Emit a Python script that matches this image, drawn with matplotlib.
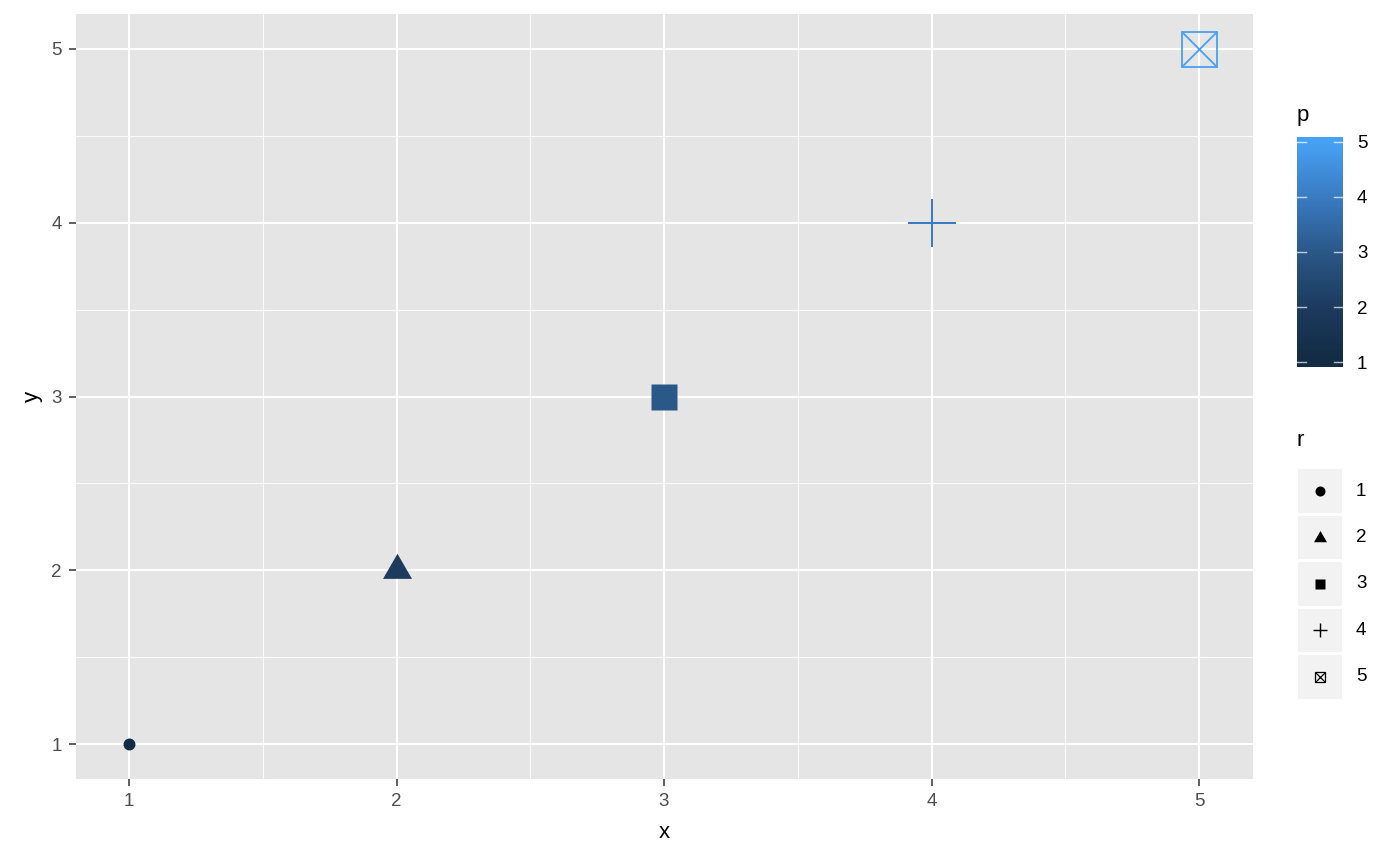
import numpy as np
import matplotlib
matplotlib.use('Agg')
import matplotlib.pyplot as plt
from matplotlib.path import Path
from matplotlib.colors import LinearSegmentedColormap, Normalize

plt.rcParams['font.family'] = ['Liberation Sans', 'DejaVu Sans']

# data
x = [1, 2, 3, 4, 5]
y = [1, 2, 3, 4, 5]
p = [1, 2, 3, 4, 5]
r = ['1', '2', '3', '4', '5']
ticks = [1, 2, 3, 4, 5]

# gradient stops as seen in the picture
cmap = LinearSegmentedColormap.from_list(
    'pgrad', ['#132B43', '#1C3B5E', '#2A5888', '#3A7BC2', '#47A1F5'])
norm = Normalize(min(p), max(p))


def grad(v):
    return cmap(norm(v))


tri = Path([(-0.5, -0.2887), (0.5, -0.2887), (0, 0.5774), (-0.5, -0.2887)],
           [Path.MOVETO, Path.LINETO, Path.LINETO, Path.CLOSEPOLY])

# marker styles per r level: (marker, big size, legend size, filled, edge width)
styles = {
    '1': ('o', 8.6, 7.2, True, 0),
    '2': (tri, 24.1, 10.8, True, 0),
    '3': ('s', 19.4, 7.2, True, 0),
    '4': ('+', 34.6, 10.0, False, 1.45),
    '5': ('boxx', 25.2, 6.6, False, 1.3),
}


def draw_marker(ax, xx, yy, level, col, big=True, **kw):
    mk, sb, sl, filled, lw = styles[level]
    ms = sb if big else sl
    if not big:
        lw = lw * 0.7
    if mk == 'boxx':
        ax.plot(xx, yy, marker='s', ms=ms, mfc='none', mec=col, mew=lw, ls='none', **kw)
        ax.plot(xx, yy, marker='x', ms=ms, mec=col, mew=lw, ls='none', **kw)
    elif filled:
        ax.plot(xx, yy, marker=mk, ms=ms, mfc=col, mec='none', ls='none', **kw)
    else:
        ax.plot(xx, yy, marker=mk, ms=ms, mec=col, mew=lw, ls='none', **kw)


W, H = 1400, 866
fig = plt.figure(figsize=(14, 8.66), dpi=100)


def box(l, t, r_, b):
    return [l / W, 1 - b / H, (r_ - l) / W, (b - t) / H]


ax = fig.add_axes(box(75.5, 14, 1252.5, 779))
ax.set_facecolor('#E5E5E5')
ax.set_xlim(0.8, 5.2)
ax.set_ylim(0.8, 5.2)
ax.set_xticks(ticks)
ax.set_yticks(ticks)
ax.set_xticks([v + 0.5 for v in ticks[:-1]], minor=True)
ax.set_yticks([v + 0.5 for v in ticks[:-1]], minor=True)
ax.grid(which='major', color='white', lw=1.5)
ax.grid(which='minor', color='#FAFAFA', lw=0.8)
ax.set_axisbelow(True)
for s in ax.spines.values():
    s.set_visible(False)
ax.tick_params(which='major', length=5, width=1.1, color='#333333', labelcolor='#4D4D4D',
               labelsize=13.5, pad=5)
ax.tick_params(which='minor', length=0)
ax.set_xlabel('x', fontsize=16, labelpad=9)
ax.set_ylabel('y', fontsize=16, labelpad=6)

for xi, yi, pi, ri in zip(x, y, p, r):
    draw_marker(ax, xi, yi, ri, grad(pi), big=True, zorder=3)

# colorbar
cax = fig.add_axes(box(1297, 137, 1343, 367))
lo, hi = min(p) - 0.09, max(p) + 0.09
vals = np.clip(np.linspace(lo, hi, 300), min(p), max(p))
img = np.array([grad(v) for v in vals])[:, None, :]
cax.imshow(img, aspect='auto', extent=[0, 1, lo, hi], origin='lower')
cax.set_xlim(0, 1)
cax.set_ylim(lo, hi)
for t in ticks:
    cax.plot([0, 0.2], [t, t], color='white', lw=1.0, alpha=0.7)
    cax.plot([0.8, 1], [t, t], color='white', lw=1.0, alpha=0.7)
cax.set_xticks([])
cax.yaxis.tick_right()
cax.set_yticks(ticks)
cax.tick_params(axis='y', length=0, labelsize=13.5, pad=10, labelcolor='black')
for s in cax.spines.values():
    s.set_visible(False)
fig.text(1297 / W, 1 - 115 / H, 'p', fontsize=16, va='center', ha='left')

# shape legend
lax = fig.add_axes(box(1298, 468, 1400, 700))
lax.set_xlim(0, 102)
lax.set_ylim(len(r) - 0.5, -0.5)
lax.axis('off')
for i, ri in enumerate(r):
    lax.add_patch(plt.Rectangle((0, i - 0.47), 44, 0.94, color='#F2F2F2', lw=0))
    draw_marker(lax, 22, i, ri, 'black', big=False)
    lax.text(58, i, ri, fontsize=13.5, va='center', ha='left')
fig.text(1297 / W, 1 - 440 / H, 'r', fontsize=16, va='center', ha='left')

fig.savefig('out.png', dpi=100)
